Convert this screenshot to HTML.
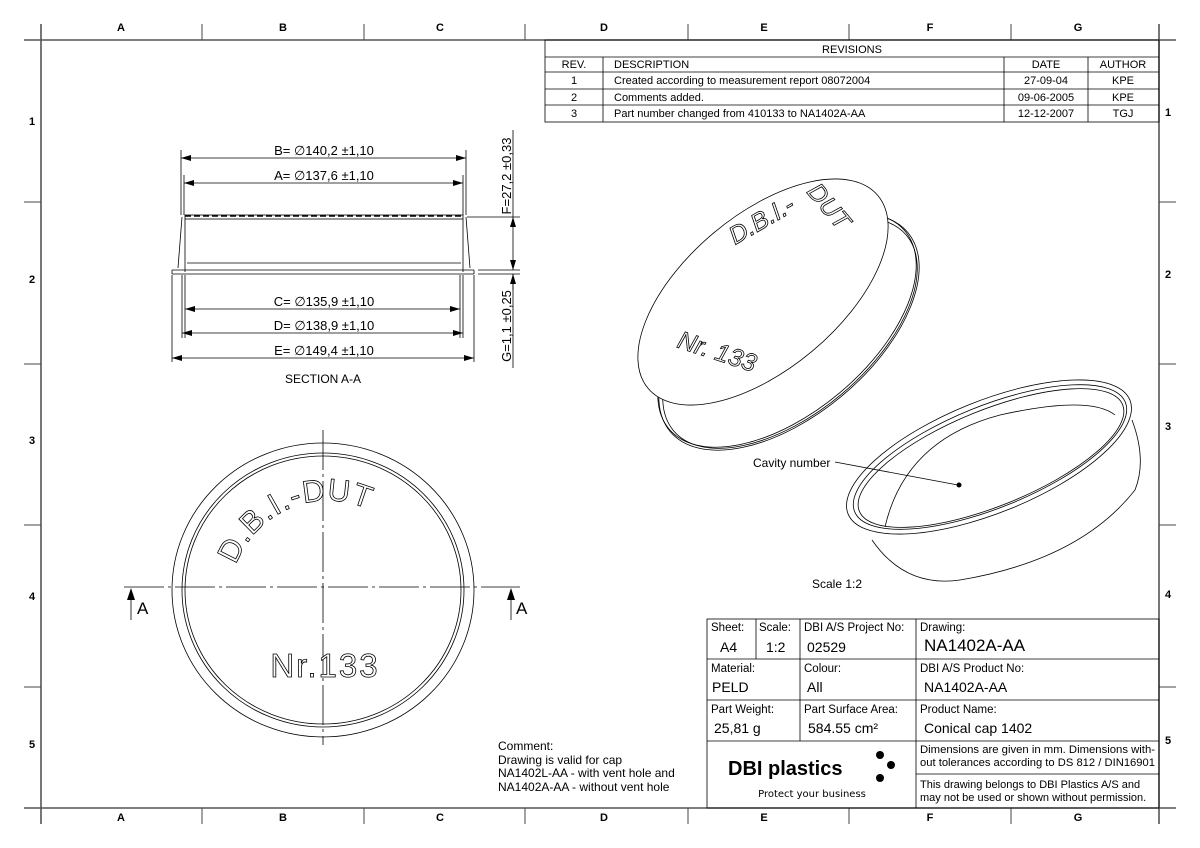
<!DOCTYPE html>
<html><head><meta charset="utf-8"><style>
html,body{margin:0;padding:0;background:#fff;}
svg{display:block;font-family:"Liberation Sans",sans-serif;}
</style></head><body>
<svg width="1200" height="848" viewBox="0 0 1200 848" xmlns="http://www.w3.org/2000/svg">
<defs>
<marker id="ar" viewBox="0 0 10 6" refX="10" refY="3" markerWidth="10" markerHeight="6" orient="auto-start-reverse" markerUnits="userSpaceOnUse"><path d="M0,0 L10,3 L0,6z" fill="#000"/></marker>
</defs>
<!-- frame -->
<g stroke="#555" stroke-width="1.6" fill="none">
<line x1="24" y1="40" x2="1176" y2="40"/>
<line x1="24" y1="808" x2="1176" y2="808"/>
<line x1="41" y1="24" x2="41" y2="824"/>
<line x1="1159" y1="24" x2="1159" y2="824"/>
</g>
<g stroke="#444" stroke-width="1">
<line x1="202" y1="24" x2="202" y2="40"/><line x1="364" y1="24" x2="364" y2="40"/><line x1="525" y1="24" x2="525" y2="40"/><line x1="688" y1="24" x2="688" y2="40"/><line x1="849" y1="24" x2="849" y2="40"/><line x1="1011" y1="24" x2="1011" y2="40"/>
<line x1="202" y1="808" x2="202" y2="824"/><line x1="364" y1="808" x2="364" y2="824"/><line x1="525" y1="808" x2="525" y2="824"/><line x1="688" y1="808" x2="688" y2="824"/><line x1="849" y1="808" x2="849" y2="824"/><line x1="1011" y1="808" x2="1011" y2="824"/>
<line x1="24" y1="202" x2="41" y2="202"/><line x1="24" y1="364" x2="41" y2="364"/><line x1="24" y1="525" x2="41" y2="525"/><line x1="24" y1="687" x2="41" y2="687"/>
<line x1="1159" y1="202" x2="1176" y2="202"/><line x1="1159" y1="364" x2="1176" y2="364"/><line x1="1159" y1="525" x2="1176" y2="525"/><line x1="1159" y1="687" x2="1176" y2="687"/>
</g>
<g font-size="11" font-weight="bold" text-anchor="middle" fill="#000">
<text x="121" y="31">A</text><text x="283" y="31">B</text><text x="440" y="31">C</text><text x="604" y="31">D</text><text x="764" y="31">E</text><text x="930" y="31">F</text><text x="1078" y="31">G</text>
<text x="121" y="821">A</text><text x="283" y="821">B</text><text x="440" y="821">C</text><text x="604" y="821">D</text><text x="764" y="821">E</text><text x="930" y="821">F</text><text x="1078" y="821">G</text>
<text x="32" y="125">1</text><text x="32" y="283">2</text><text x="32" y="444">3</text><text x="32" y="600">4</text><text x="32" y="748">5</text>
<text x="1168" y="116">1</text><text x="1168" y="278">2</text><text x="1168" y="430">3</text><text x="1168" y="598">4</text><text x="1168" y="744">5</text>
</g>
<!-- revisions -->
<g stroke="#000" stroke-width="0.8" fill="none">
<rect x="545" y="40" width="614" height="82"/>
<line x1="545" y1="57" x2="1159" y2="57"/><line x1="545" y1="72" x2="1159" y2="72"/><line x1="545" y1="89" x2="1159" y2="89"/><line x1="545" y1="105" x2="1159" y2="105"/>
<line x1="603" y1="57" x2="603" y2="122"/><line x1="1004" y1="57" x2="1004" y2="122"/><line x1="1088" y1="57" x2="1088" y2="122"/>
</g>
<g font-size="11" fill="#000">
<text x="852" y="53" text-anchor="middle">REVISIONS</text>
<text x="574" y="68" text-anchor="middle">REV.</text><text x="614" y="68">DESCRIPTION</text><text x="1046" y="68" text-anchor="middle">DATE</text><text x="1123" y="68" text-anchor="middle">AUTHOR</text>
<text x="574" y="84" text-anchor="middle">1</text><text x="614" y="84">Created according to measurement report 08072004</text><text x="1046" y="84" text-anchor="middle">27-09-04</text><text x="1123" y="84" text-anchor="middle">KPE</text>
<text x="574" y="101" text-anchor="middle">2</text><text x="614" y="101">Comments added.</text><text x="1046" y="101" text-anchor="middle">09-06-2005</text><text x="1123" y="101" text-anchor="middle">KPE</text>
<text x="574" y="117" text-anchor="middle">3</text><text x="614" y="117">Part number changed from 410133 to NA1402A-AA</text><text x="1046" y="117" text-anchor="middle">12-12-2007</text><text x="1123" y="117" text-anchor="middle">TGJ</text>
</g>
<!-- section A-A -->
<g stroke="#000" stroke-width="0.8" fill="none">
<rect x="185" y="215" width="278" height="4"/>
<line x1="185" y1="216" x2="463" y2="216" stroke-dasharray="6,3" stroke-width="1.4"/>
<line x1="185" y1="219" x2="185" y2="272"/><line x1="463" y1="219" x2="463" y2="272"/>
<line x1="182" y1="217" x2="178" y2="268"/><line x1="466" y1="217" x2="470" y2="268"/>
<line x1="187" y1="263" x2="461" y2="263"/>
<line x1="172" y1="270" x2="474" y2="270"/><line x1="172" y1="274" x2="474" y2="274"/>
<line x1="172" y1="270" x2="172" y2="274"/><line x1="474" y1="270" x2="474" y2="274"/>
<line x1="181" y1="150" x2="181" y2="215"/><line x1="466" y1="150" x2="466" y2="215"/>
<line x1="184" y1="175" x2="184" y2="215"/><line x1="463" y1="175" x2="463" y2="215"/>
<line x1="185" y1="275" x2="185" y2="338"/><line x1="460" y1="275" x2="460" y2="338"/>
<line x1="182" y1="275" x2="182" y2="338"/><line x1="463" y1="275" x2="463" y2="338"/>
<line x1="172" y1="275" x2="172" y2="362"/><line x1="474" y1="275" x2="474" y2="362"/>
<line x1="467" y1="217" x2="520" y2="217"/><line x1="478" y1="270" x2="520" y2="270"/><line x1="478" y1="274" x2="520" y2="274"/>
<line x1="513" y1="130" x2="513" y2="217"/>
<line x1="513" y1="274" x2="513" y2="368"/>
</g>
<g stroke="#000" stroke-width="0.8">
<line x1="181" y1="158" x2="466" y2="158" marker-start="url(#ar)" marker-end="url(#ar)"/>
<line x1="184" y1="183" x2="463" y2="183" marker-start="url(#ar)" marker-end="url(#ar)"/>
<line x1="185" y1="309" x2="460" y2="309" marker-start="url(#ar)" marker-end="url(#ar)"/>
<line x1="182" y1="333" x2="463" y2="333" marker-start="url(#ar)" marker-end="url(#ar)"/>
<line x1="172" y1="358" x2="474" y2="358" marker-start="url(#ar)" marker-end="url(#ar)"/>
<line x1="513" y1="217" x2="513" y2="270" marker-start="url(#ar)" marker-end="url(#ar)"/>
<line x1="513" y1="290" x2="513" y2="274" marker-end="url(#ar)"/>
</g>
<g font-size="13" fill="#000" text-anchor="middle">
<text x="324" y="155">B= ∅140,2 ±1,10</text>
<text x="324" y="180">A= ∅137,6 ±1,10</text>
<text x="324" y="306">C= ∅135,9 ±1,10</text>
<text x="324" y="330">D= ∅138,9 ±1,10</text>
<text x="324" y="355">E= ∅149,4 ±1,10</text>
<text x="323" y="383" font-size="12">SECTION A-A</text>
<text transform="translate(511,176) rotate(-90)">F=27,2 ±0,33</text>
<text transform="translate(511,326) rotate(-90)">G=1,1 ±0,25</text>
</g>
<!-- top view -->
<g stroke="#000" stroke-width="0.8" fill="none">
<ellipse cx="323" cy="590" rx="151" ry="147"/>
<ellipse cx="323" cy="590" rx="141" ry="137"/>
<ellipse cx="323" cy="590" rx="138" ry="134"/>
<line x1="323" y1="430" x2="323" y2="745" stroke-dasharray="40,4,3,4"/>
<line x1="124" y1="587" x2="520" y2="587" stroke-dasharray="40,4,3,4"/>
<line x1="131" y1="620" x2="131" y2="598"/><line x1="511" y1="620" x2="511" y2="598"/>
</g>
<path d="M127,600 L131,588 L135,600z M507,600 L511,588 L515,600z"/>
<g font-size="17" fill="#000"><text x="137" y="614">A</text><text x="516" y="614">A</text></g>
<g font-size="33" fill="#fff" stroke="#000" stroke-width="0.8">
<text x="325" y="677" text-anchor="middle" letter-spacing="2">Nr.133</text>
<path id="arc1" d="M236,565 A98,98 0 0 1 412,548" fill="none" stroke="none"/>
<text font-size="31" letter-spacing="1"><textPath href="#arc1">D.B.I.-DUT</textPath></text>
</g>
<!-- iso cap 1 -->
<g stroke="#000" stroke-width="0.8" fill="none">
<ellipse cx="790" cy="333" rx="152" ry="80" transform="rotate(-40 790 333)"/>
<ellipse cx="787" cy="330" rx="154" ry="82" transform="rotate(-40 787 330)"/>
<ellipse cx="789" cy="332" rx="155" ry="83" transform="rotate(-40 789 332)"/>
<ellipse cx="763" cy="292" rx="150" ry="77" transform="rotate(-40 763 292)" fill="#fff"/>
</g>
<g fill="#fff" stroke="#000" stroke-width="0.8" font-size="25" font-style="italic">
<text transform="translate(735,245) rotate(-30)">D.B.I.-</text>
<text transform="translate(806,192) rotate(50)">DUT</text>
<text transform="translate(676,347) rotate(18)">Nr. 133</text>
</g>
<!-- iso cup 2 -->
<g stroke="#000" stroke-width="0.8" fill="none">
<path d="M872,540 Q905,588 960,580 Q1080,560 1135,490 Q1147,460 1132,420"/>
<ellipse cx="989" cy="457" rx="152" ry="56" transform="rotate(-22 989 457)" fill="#fff"/>
<ellipse cx="990" cy="457" rx="146" ry="51" transform="rotate(-22 990 457)"/>
<ellipse cx="991" cy="458" rx="142" ry="48" transform="rotate(-22 991 458)"/>
<path d="M885,527 Q905,440 1000,415 Q1090,395 1115,415"/>
<line x1="835" y1="462" x2="958" y2="485"/>
</g>
<circle cx="959" cy="485" r="2.5"/>
<g font-size="12" fill="#000">
<text x="753" y="467">Cavity number</text>
<text x="812" y="588">Scale 1:2</text>
<text x="498" y="750">Comment:</text>
<text x="498" y="764">Drawing is valid for cap</text>
<text x="498" y="777">NA1402L-AA - with vent hole and</text>
<text x="498" y="791">NA1402A-AA - without vent hole</text>
</g>
<!-- title block -->
<g stroke="#000" stroke-width="0.8" fill="none">
<rect x="707" y="619" width="452" height="189"/>
<line x1="707" y1="659" x2="1159" y2="659"/><line x1="707" y1="700" x2="1159" y2="700"/><line x1="707" y1="741" x2="1159" y2="741"/><line x1="916" y1="774" x2="1159" y2="774"/>
<line x1="756" y1="619" x2="756" y2="659"/><line x1="800" y1="619" x2="800" y2="741"/><line x1="916" y1="619" x2="916" y2="808"/>
</g>
<g font-size="11.5" fill="#000">
<text x="711" y="631">Sheet:</text><text x="759" y="631">Scale:</text><text x="804" y="631">DBI A/S Project No:</text><text x="920" y="631">Drawing:</text>
<text x="711" y="672">Material:</text><text x="804" y="672">Colour:</text><text x="920" y="672">DBI A/S Product No:</text>
<text x="711" y="713">Part Weight:</text><text x="804" y="713">Part Surface Area:</text><text x="920" y="713">Product Name:</text>
</g>
<g font-size="11" fill="#000">
<text x="920" y="753" textLength="235" lengthAdjust="spacingAndGlyphs">Dimensions are given in mm. Dimensions with-</text>
<text x="920" y="766" textLength="235" lengthAdjust="spacingAndGlyphs">out tolerances according to DS 812 / DIN16901</text>
<text x="920" y="788">This drawing belongs to DBI Plastics A/S and</text>
<text x="920" y="801">may not be used or shown without permission.</text>
</g>
<g font-size="14" fill="#000">
<text x="720" y="652">A4</text><text x="766" y="652">1:2</text><text x="807" y="652">02529</text>
<text x="712" y="692">PELD</text><text x="807" y="692">All</text><text x="924" y="692">NA1402A-AA</text>
<text x="714" y="733">25,81 g</text><text x="808" y="733">584.55 cm²</text><text x="924" y="733">Conical cap 1402</text>
</g>
<text x="924" y="651" font-size="17" fill="#000">NA1402A-AA</text>
<text x="728" y="775" font-size="20" font-weight="bold" fill="#000">DBI plastics</text>
<circle cx="880" cy="755" r="4"/><circle cx="891" cy="765" r="4"/><circle cx="880" cy="778" r="4"/>
<text x="812" y="797" font-size="10" fill="#000" text-anchor="middle" font-family="DejaVu Sans,sans-serif">Protect your business</text>
</svg>
</body></html>
